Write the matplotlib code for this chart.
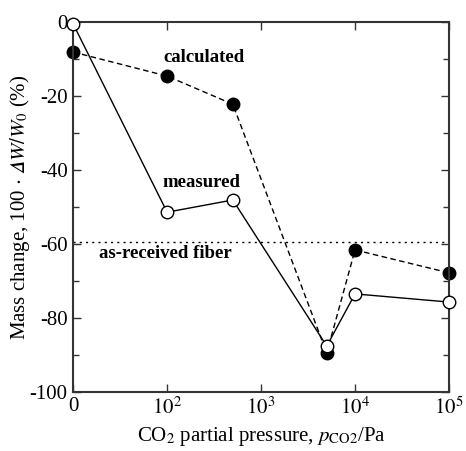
import matplotlib
matplotlib.use("Agg")
import matplotlib.pyplot as plt
from matplotlib.ticker import MultipleLocator, FixedLocator, NullLocator

plt.rcParams['font.family'] = ['Liberation Serif', 'DejaVu Serif']
plt.rcParams['mathtext.fontset'] = 'stix'

# Data (x=10 represents the "0" pressure position)
pressure = [10, 100, 500, 5000, 10000, 100000]
measured = [-0.5, -51.4, -48.1, -87.6, -73.5, -75.7]
calculated = [-8.1, -14.6, -22.2, -89.5, -61.6, -67.8]
as_received = -59.5
xtick_vals = [10, 100, 1000, 10000, 100000]
xtick_labels = ['0', '$10^2$', '$10^3$', '$10^4$', '$10^5$']
ytick_vals = [0, -20, -40, -60, -80, -100]

fig = plt.figure(figsize=(4.66, 4.51), dpi=100)
ax = fig.add_axes([0.157, 0.131, 0.9635 - 0.157, 0.951 - 0.131])

ax.axhline(as_received, color='black', linestyle=(0, (1.5, 3)), linewidth=1.0, zorder=1)
ax.plot(pressure, calculated, color='black', linestyle=(0, (4, 2.5)), linewidth=1.0,
        marker='o', markersize=9, markerfacecolor='black', markeredgecolor='black', zorder=2,
        clip_on=False)
ax.plot(pressure, measured, color='black', linestyle='-', linewidth=1.0,
        marker='o', markersize=9, markerfacecolor='white', markeredgecolor='black',
        markeredgewidth=1.0, zorder=3, clip_on=False)

ax.set_xscale('log')
ax.set_xlim(10, 100000)
ax.set_ylim(-100, 0)
ax.xaxis.set_major_locator(FixedLocator(xtick_vals))
ax.xaxis.set_minor_locator(NullLocator())
ax.set_xticklabels(xtick_labels)
ax.yaxis.set_major_locator(FixedLocator(ytick_vals))
ax.yaxis.set_minor_locator(MultipleLocator(10))
ax.set_yticklabels([str(v) for v in ytick_vals])

ax.tick_params(which='both', direction='in', top=True, right=True, labelsize=15,
               color='#333333')
ax.tick_params(which='major', length=6, width=1.0, pad=4)
ax.tick_params(which='minor', length=4, width=1.0)
for s in ax.spines.values():
    s.set_linewidth(1.5)
    s.set_color('#333333')

ax.set_xlabel('CO$_2$ partial pressure, $p_{\\mathrm{CO2}}$/Pa', fontsize=15, labelpad=4)
ax.set_ylabel('Mass change, 100 $\\cdot$ $\U0001D6E5\\mathit{W/W}_0$ (%)', fontsize=15, labelpad=-2)

ax.text(0.24, 0.905, 'calculated', transform=ax.transAxes, fontsize=13.5,
        fontweight='bold', ha='left', va='center')
ax.text(0.238, 0.565, 'measured', transform=ax.transAxes, fontsize=13.5,
        fontweight='bold', ha='left', va='center')
ax.text(0.07, 0.375, 'as-received fiber', transform=ax.transAxes, fontsize=13.5,
        fontweight='bold', ha='left', va='center')

fig.savefig('out.png', dpi=100)
